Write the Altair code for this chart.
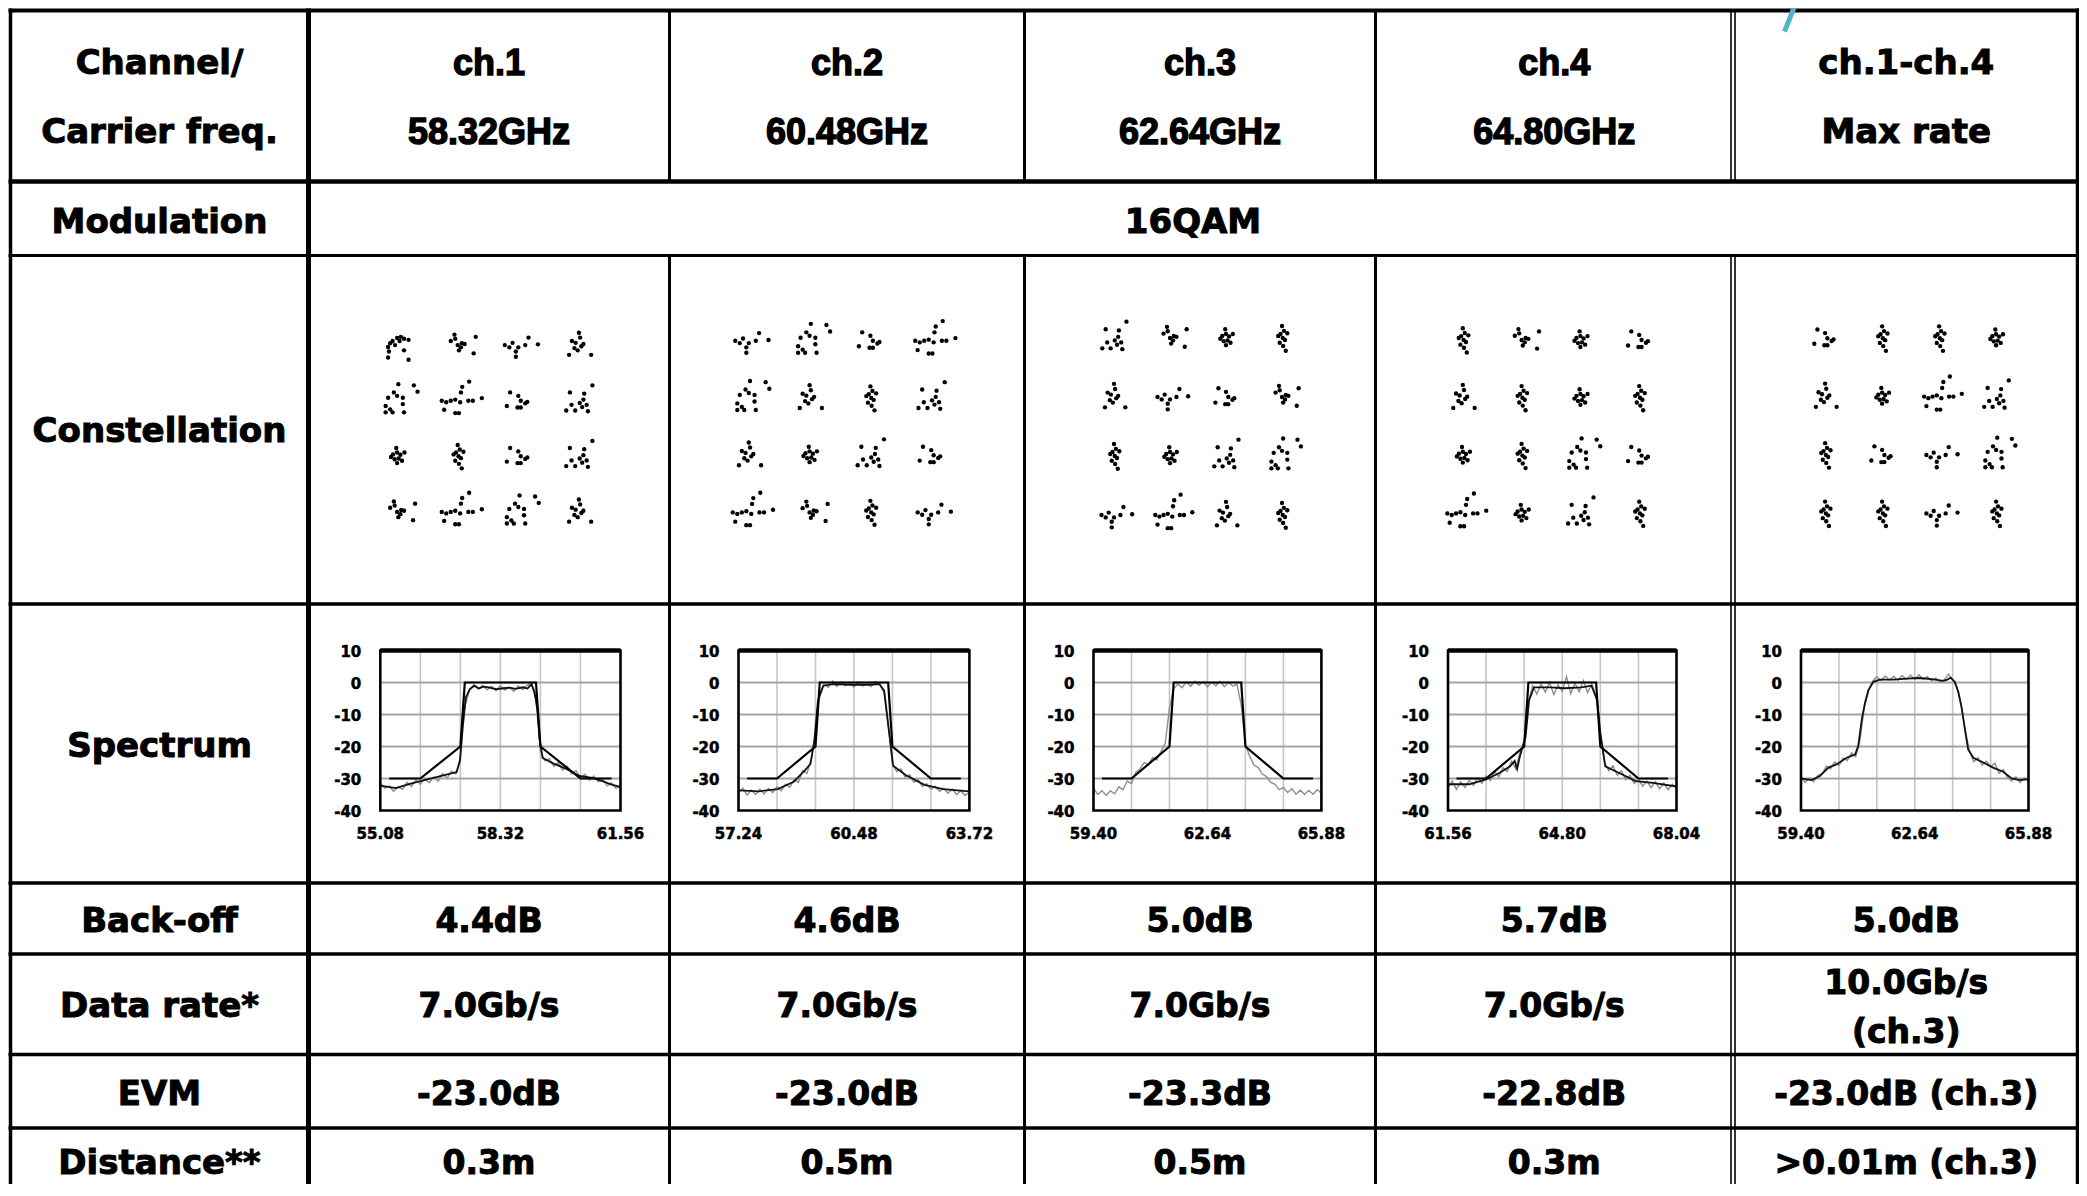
import altair as alt
import pandas as pd

W, H = 2071, 1176          # view size (page px minus 8px body margin)
OX, OY = 8, 8              # page margin offset

FONT_A = "DejaVu Sans"
FONT_B = "Liberation Sans"

# ---------------- table content ----------------
ROW_LABELS = ["Channel/", "Carrier freq.", "Modulation", "Constellation", "Spectrum",
              "Back-off", "Data rate*", "EVM", "Distance**"]
ROW_LABEL_Y = [62, 131, 221, 430, 745, 920, 1005, 1093, 1162]
HEADER_Y = [62, 131]
CHANNELS = ["ch.1", "ch.2", "ch.3", "ch.4", "ch.1-ch.4"]
CARRIERS = ["58.32GHz", "60.48GHz", "62.64GHz", "64.80GHz", "Max rate"]
MODULATION = "16QAM"
BACKOFF = ["4.4dB", "4.6dB", "5.0dB", "5.7dB", "5.0dB"]
DATARATE = ["7.0Gb/s", "7.0Gb/s", "7.0Gb/s", "7.0Gb/s", "10.0Gb/s"]
DATARATE_NOTE = "(ch.3)"
EVM = ["-23.0dB", "-23.0dB", "-23.3dB", "-22.8dB", "-23.0dB (ch.3)"]
DISTANCE = ["0.3m", "0.5m", "0.5m", "0.3m", ">0.01m (ch.3)"]
VALUE_Y = {"backoff": 920, "rate": 1005, "rate_top": 982, "rate_note": 1031, "evm": 1093, "dist": 1162}

# table geometry (page px)
COL_EDGES = [10.5, 308.5, 669.5, 1024.5, 1375.5, 1733.0, 2077.5]
ROW_EDGES = [10.5, 181.5, 255.5, 604.0, 883.0, 954.0, 1054.5, 1128.0]
ROW_WIDTHS = [4.0, 4.5, 3.0, 3.5, 3.5, 3.5, 3.5, 3.5]
TABLE_BOTTOM = 1190.0

# ---------------- constellations ----------------
I_LEVELS = [-3, -1, 1, 3]
Q_LEVELS = [3, 1, -1, -3]
SPREAD = 1.35
PATTERNS = [
    [(-0.22, -0.05), (-0.17, 0.05), (-0.11, 0.11), (0.0, 0.19), (0.09, 0.22), (0.17, 0.17), (0.28, 0.14),
     (-0.05, 0.0), (-0.2, -0.17), (-0.22, -0.33), (0.17, -0.14), (0.28, -0.39), (0.06, 0.11)],
    [(-0.17, 0.11), (-0.08, 0.28), (0.0, 0.0), (0.08, -0.06), (0.17, 0.03), (0.44, 0.22), (0.39, -0.22),
     (-0.06, 0.17), (0.03, -0.14), (0.1, 0.05)],
    [(-0.33, 0.0), (-0.22, -0.06), (-0.14, 0.06), (-0.06, -0.17), (-0.06, -0.31), (0.0, -0.06), (0.17, 0.0),
     (0.25, 0.2), (0.48, 0.02)],
    [(-0.17, 0.11), (0.0, 0.33), (0.06, -0.03), (-0.03, -0.14), (-0.08, 0.06), (-0.24, -0.26), (0.3, -0.26),
     (-0.11, -0.08), (0.11, 0.03), (0.03, 0.2)],
    [(0.03, 0.44), (0.41, 0.41), (0.5, 0.24), (-0.08, 0.22), (-0.22, 0.08), (0.0, 0.13), (0.14, 0.08),
     (-0.28, -0.14), (-0.17, -0.23), (-0.28, -0.31), (-0.11, -0.31), (0.17, -0.31), (0.14, -0.09)],
    [(-0.39, 0.0), (-0.28, -0.04), (-0.17, 0.0), (-0.06, 0.03), (0.06, -0.04), (0.11, 0.37), (0.08, 0.22),
     (0.26, 0.0), (0.37, 0.0), (0.59, 0.07), (-0.33, -0.24), (-0.06, -0.33), (0.03, -0.33), (0.28, 0.51)],
    [(-0.2, 0.22), (0.0, 0.13), (0.06, 0.0), (0.17, -0.07), (0.22, -0.03), (0.06, -0.18), (-0.02, -0.18),
     (-0.28, -0.14)],
    [(-0.22, 0.22), (0.13, 0.19), (0.33, 0.41), (0.11, 0.03), (0.02, -0.06), (0.19, -0.11), (-0.09, -0.26),
     (-0.31, -0.26), (0.22, -0.28), (-0.18, -0.11), (0.08, -0.17)],
    [(0.0, 0.3), (0.05, 0.18), (-0.04, 0.1), (0.02, 0.0), (0.08, -0.05), (-0.06, -0.12), (0.03, -0.2),
     (0.1, -0.32), (-0.1, 0.05), (0.14, 0.12)],
    [(-0.1, 0.05), (0.0, 0.1), (0.08, 0.04), (0.04, -0.06), (-0.06, -0.08), (0.12, -0.12), (-0.15, -0.02),
     (0.0, -0.18), (0.18, 0.1), (-0.02, 0.22)],
]
PANEL_PATTERNS = [
    [0, 1, 2, 3, 4, 5, 6, 7, 9, 8, 6, 7, 1, 5, 4, 3],
    [2, 4, 6, 5, 4, 3, 8, 7, 3, 9, 7, 6, 5, 1, 8, 2],
    [7, 1, 9, 8, 3, 2, 6, 1, 8, 9, 7, 4, 2, 5, 3, 8],
    [8, 1, 9, 6, 3, 8, 9, 8, 9, 8, 4, 6, 5, 9, 7, 8],
    [6, 8, 8, 9, 3, 9, 5, 7, 8, 6, 2, 4, 8, 8, 2, 8],
]
CONST_CX = [488, 840, 1198, 1551, 1910.6]
CONST_UX = [30.3, 30.4, 28.0, 29.4, 28.5]
CONST_CY = [428.5, 426.6, 426.5, 426.7, 425.8]
CONST_UY = [27.8, 28.6, 29.5, 28.9, 29.2]

# ---------------- spectra ----------------
SPEC_TICKS = [[55.08, 58.32, 61.56], [57.24, 60.48, 63.72], [59.40, 62.64, 65.88],
              [61.56, 64.80, 68.04], [59.40, 62.64, 65.88]]
SPEC_GRID_F = [[56.16, 57.24, 58.32, 59.40, 60.48], [58.32, 59.40, 60.48, 61.56, 62.64],
               [60.48, 61.56, 62.64, 63.72, 64.80], [62.64, 63.72, 64.80, 65.88, 66.96],
               [60.48, 61.56, 62.64, 63.72, 64.80]]
SPEC_GRID_DB = [-30, -20, -10, 0]
SPEC_Y_TICKS = [-40, -30, -20, -10, 0, 10]
SPEC_LEFT = [380.3, 738.5, 1093.5, 1448.0, 1801.0]
SPEC_RIGHT = [620.5, 969.4, 1321.4, 1676.5, 2028.5]
SPEC_TOP, SPEC_BOTTOM = 650.5, 810.5

MASK_F = [
    [55.32, 56.16, 57.24, 57.36, 59.28, 59.40, 60.48, 61.32],
    [57.48, 58.32, 59.40, 59.52, 61.44, 61.56, 62.64, 63.48],
    [59.64, 60.48, 61.56, 61.68, 63.60, 63.72, 64.80, 65.64],
    [61.80, 62.64, 63.72, 63.84, 65.76, 65.88, 66.96, 67.80],
    [],
]
MASK_DB = [-30, -30, -20, 0, 0, -20, -30, -30]

BLACK_F = [
    [55.08, 55.50, 55.90, 56.24, 56.78, 57.14, 57.23, 57.30, 57.39, 57.50,
     57.62, 57.74, 57.86, 58.00, 58.21, 58.40, 58.57, 58.72, 58.93, 59.05,
     59.16, 59.24, 59.32, 59.38, 59.46, 59.73, 60.10, 60.45, 60.80, 61.07, 61.34, 61.56],
    [57.24, 57.82, 58.34, 58.79, 59.11, 59.26, 59.37, 59.47, 59.62, 59.88,
     60.40, 60.91, 61.20, 61.33, 61.45, 61.58, 61.94, 62.46, 62.98, 63.72],
    [],
    [61.56, 62.16, 62.64, 63.03, 63.32, 63.45, 63.52, 63.60, 63.76, 63.86, 64.00,
     64.47, 64.86, 65.34, 65.63, 65.79, 65.88, 66.02, 66.40, 66.88, 67.37, 68.04],
    [59.40, 59.70, 59.94, 60.18, 60.41, 60.70, 60.94, 61.03, 61.13, 61.22,
     61.32, 61.46, 61.65, 62.03, 62.41, 62.79, 63.17, 63.45, 63.55, 63.66,
     63.78, 63.88, 63.97, 64.07, 64.16, 64.31, 64.59, 64.87, 65.16, 65.40, 65.63, 65.88],
]
BLACK_DB = [
    [-32.2, -33.0, -31.6, -30.6, -29.0, -28.0, -24.4, -14.0, -4.6, -2.0,
     -1.0, -1.9, -1.3, -1.5, -2.1, -1.8, -1.6, -2.0, -1.5, -1.9,
     -0.5, -3.0, -8.5, -17.8, -23.6, -25.2, -27.0, -29.2, -29.8, -30.8, -32.0, -32.6],
    [-33.7, -34.0, -33.3, -31.0, -27.4, -25.4, -18.0, -5.7, -1.0, -0.5,
     -0.7, -0.7, -0.5, -2.6, -14.0, -26.0, -29.0, -32.0, -33.3, -34.0],
    [],
    [-31.8, -31.8, -30.3, -28.2, -26.2, -24.5, -27.0, -23.0, -17.0, -5.5, -1.5,
     -1.5, -1.8, -1.5, -1.0, -5.5, -15.8, -26.2, -28.2, -30.8, -31.4, -32.5],
    [-30.0, -30.5, -29.2, -26.6, -25.6, -23.5, -22.5, -19.9, -11.6, -6.5,
     -2.4, 0.2, 0.9, 0.9, 1.2, 1.4, 1.0, 0.5, 0.8, 1.5,
     0.2, -2.9, -7.5, -14.7, -20.9, -23.5, -25.0, -26.6, -27.9, -30.0, -30.5, -30.2],
]
GRAY_STEP = 0.12
GRAY_DB = [
    [-31.5, -33.0, -32.4, -34.0, -32.6, -33.4, -31.2, -32.5, -30.4, -31.8,
     -30.0, -31.3, -29.6, -30.8, -28.5, -29.9, -27.8, -28.6, -23.5, -7.5,
     -2.5, -0.8, -2.0, -0.9, -2.3, -1.2, -2.6, -1.0, -2.4, -1.5,
     -2.7, -1.1, -2.2, -0.9, -0.3, -5.5, -21.5, -24.5, -23.8, -26.2,
     -25.0, -27.4, -26.1, -28.6, -27.5, -29.8, -28.7, -30.5, -29.2, -31.0,
     -30.2, -32.3, -31.4, -33.1, -32.4],
    [-34.5, -33.0, -35.2, -33.6, -35.0, -33.4, -34.8, -33.1, -34.4, -32.6,
     -33.8, -31.8, -32.7, -30.4, -31.2, -27.5, -28.4, -24.0, -16.5, -3.0,
     -0.6, -1.5, 0.5, -1.2, 0.2, -1.0, -0.2, -1.4, 0.1, -1.1,
     -0.3, -1.3, 0.3, -0.8, -3.0, -13.0, -25.5, -27.8, -27.0, -29.6,
     -28.8, -31.2, -30.4, -32.5, -31.6, -33.4, -32.4, -34.0, -33.0, -34.6,
     -33.3, -35.0, -33.8, -35.3, -34.2],
    [-33.0, -35.0, -33.8, -35.2, -33.9, -34.8, -32.6, -33.5, -30.8, -31.6,
     -28.2, -27.0, -25.0, -25.8, -23.4, -24.2, -21.5, -19.0, -8.0, -2.0,
     -0.5, -1.6, 0.2, -1.2, 0.4, -0.9, 0.3, -1.4, 0.1, -1.0,
     0.4, -1.3, 0.0, -1.1, -0.6, -7.0, -19.5, -23.0, -25.8, -26.5,
     -28.6, -29.4, -31.2, -31.8, -33.5, -32.8, -34.4, -33.2, -34.9, -33.6,
     -35.0, -33.7, -34.9, -33.5, -34.6],
    [-33.0, -30.8, -33.4, -31.0, -32.8, -30.6, -32.2, -29.8, -31.5, -29.2,
     -30.6, -27.8, -29.4, -26.6, -27.8, -24.6, -26.9, -22.0, -18.5, -6.0,
     -1.0, -3.6, -0.5, -3.0, 0.0, -3.8, -0.8, -2.8, 1.8, -3.5,
     -0.2, -2.9, 0.6, -3.2, -0.4, -4.5, -16.0, -25.0, -27.6, -26.0,
     -29.0, -27.6, -30.4, -29.0, -31.6, -30.2, -32.4, -30.8, -32.8, -31.0,
     -33.2, -31.4, -33.5, -31.8, -33.0],
    [-29.5, -31.2, -29.8, -31.0, -29.0, -28.6, -26.2, -27.0, -24.8, -26.0,
     -23.6, -24.4, -22.0, -23.2, -18.0, -8.0, -2.6, 0.4, 1.8, 0.6,
     2.0, 0.8, 1.9, 0.7, 2.2, 0.9, 2.3, 1.0, 2.4, 0.9,
     1.8, 0.5, 1.4, 0.2, 0.8, 2.6, 0.8, -1.5, -7.0, -15.0,
     -21.5, -24.8, -23.5, -25.8, -24.6, -26.4, -25.2, -28.4, -27.2, -29.6,
     -30.8, -29.5, -31.3, -29.8, -30.9],
]

# ================= build =================
def page_scales():
    xs = alt.Scale(domain=[OX, OX + W], range=[0, W], nice=False, zero=False)
    ys = alt.Scale(domain=[OY, OY + H], range=[0, H], nice=False, zero=False)
    return xs, ys


def table_layer():
    xs, ys = page_scales()
    rows = []
    left_outer, right_outer = COL_EDGES[0] - 2, COL_EDGES[-1] + 1.8
    for y, w in zip(ROW_EDGES, ROW_WIDTHS):
        rows.append(dict(x1=left_outer, x2=right_outer, y1=y, y2=y, w=w, c="black"))
    top = ROW_EDGES[0] - 2
    rows.append(dict(x1=COL_EDGES[0], x2=COL_EDGES[0], y1=top, y2=TABLE_BOTTOM, w=3.5, c="black"))
    rows.append(dict(x1=COL_EDGES[1], x2=COL_EDGES[1], y1=top, y2=TABLE_BOTTOM, w=5.0, c="black"))
    rows.append(dict(x1=COL_EDGES[-1], x2=COL_EDGES[-1], y1=top, y2=TABLE_BOTTOM, w=3.5, c="black"))
    inner = [(COL_EDGES[2], 3.0), (COL_EDGES[3], 3.0), (COL_EDGES[4], 3.0),
             (COL_EDGES[5] - 2.0, 1.6), (COL_EDGES[5] + 2.0, 1.6)]
    for x, w in inner:
        rows.append(dict(x1=x, x2=x, y1=ROW_EDGES[0], y2=ROW_EDGES[1], w=w, c="black"))
        rows.append(dict(x1=x, x2=x, y1=ROW_EDGES[2], y2=TABLE_BOTTOM, w=w, c="black"))
    # small cyan stroke in the top right corner of the slide
    rows.append(dict(x1=1797.0, x2=1784.5, y1=0.0, y2=31.7, w=5.0, c="#4db6c9"))
    rules_df = pd.DataFrame(rows)

    rules = alt.Chart(rules_df).mark_rule().encode(
        x=alt.X("x1:Q", scale=xs, axis=None), x2="x2:Q",
        y=alt.Y("y1:Q", scale=ys, axis=None), y2="y2:Q",
        strokeWidth=alt.StrokeWidth("w:Q", scale=None),
        color=alt.Color("c:N", scale=None),
    )

    centers = [(COL_EDGES[i] + COL_EDGES[i + 1]) / 2 for i in range(1, 5)]
    centers.append((COL_EDGES[5] + 2.0 + COL_EDGES[6]) / 2)
    label_x = (COL_EDGES[0] + COL_EDGES[1]) / 2

    ta, tb = [], []
    for t, y in zip(ROW_LABELS, ROW_LABEL_Y):
        ta.append(dict(x=label_x, y=y, t=t, s=34))
    for k in range(5):
        dest = tb if k < 4 else ta
        size = 36 if k < 4 else 34
        dest.append(dict(x=centers[k], y=HEADER_Y[0], t=CHANNELS[k], s=size))
        dest.append(dict(x=centers[k], y=HEADER_Y[1], t=CARRIERS[k], s=size))
    ta.append(dict(x=(COL_EDGES[1] + COL_EDGES[6]) / 2, y=221, t=MODULATION, s=34))
    for k in range(5):
        ta.append(dict(x=centers[k], y=VALUE_Y["backoff"], t=BACKOFF[k], s=33))
        if k < 4:
            ta.append(dict(x=centers[k], y=VALUE_Y["rate"], t=DATARATE[k], s=33))
        else:
            ta.append(dict(x=centers[k], y=VALUE_Y["rate_top"], t=DATARATE[k], s=33))
            ta.append(dict(x=centers[k], y=VALUE_Y["rate_note"], t=DATARATE_NOTE, s=33))
        ta.append(dict(x=centers[k], y=VALUE_Y["evm"], t=EVM[k], s=33))
        ta.append(dict(x=centers[k], y=VALUE_Y["dist"], t=DISTANCE[k], s=33))

    def text_chart(recs, font, sw):
        return alt.Chart(pd.DataFrame(recs)).mark_text(
            font=font, fontWeight="bold", color="black", stroke="black", strokeWidth=sw,
            baseline="middle", align="center", dy=2
        ).encode(
            x=alt.X("x:Q", scale=xs, axis=None),
            y=alt.Y("y:Q", scale=ys, axis=None),
            text="t:N",
            size=alt.Size("s:Q", scale=None),
        )

    return alt.layer(rules, text_chart(ta, FONT_A, 1.0), text_chart(tb, FONT_B, 1.4))


def constellation_layer(k):
    recs = []
    for r, q in enumerate(Q_LEVELS):
        for c, i in enumerate(I_LEVELS):
            pat = PATTERNS[PANEL_PATTERNS[k][r * 4 + c]]
            for dx, dy in pat:
                recs.append(dict(i=i + SPREAD * dx, q=q + SPREAD * dy))
    df = pd.DataFrame(recs)
    xs = alt.Scale(domain=[-4, 4], nice=False, zero=False,
                   range=[CONST_CX[k] - 4 * CONST_UX[k] - OX, CONST_CX[k] + 4 * CONST_UX[k] - OX])
    ys = alt.Scale(domain=[-4, 4], nice=False, zero=False,
                   range=[CONST_CY[k] + 4 * CONST_UY[k] - OY, CONST_CY[k] - 4 * CONST_UY[k] - OY])
    return alt.Chart(df).mark_circle(size=19, color="black", opacity=1).encode(
        x=alt.X("i:Q", scale=xs, axis=None),
        y=alt.Y("q:Q", scale=ys, axis=None),
    )


def spectrum_layer(k):
    lo, fc, hi = SPEC_TICKS[k]
    L, R = SPEC_LEFT[k], SPEC_RIGHT[k]
    xs = alt.Scale(domain=[lo, hi], range=[L - OX, R - OX], nice=False, zero=False)
    ys = alt.Scale(domain=[-40, 10], range=[SPEC_BOTTOM - OY, SPEC_TOP - OY], nice=False, zero=False)

    def X(f):
        return alt.X(f, scale=xs, axis=None)

    def Y(f):
        return alt.Y(f, scale=ys, axis=None)

    gv = pd.DataFrame({"f": SPEC_GRID_F[k], "y1": -40, "y2": 10})
    gh = pd.DataFrame({"d": SPEC_GRID_DB, "x1": lo, "x2": hi})
    grid_v = alt.Chart(gv).mark_rule(color="#c6c6c6", strokeWidth=1.6).encode(
        x=X("f:Q"), y=Y("y1:Q"), y2="y2:Q")
    grid_h = alt.Chart(gh).mark_rule(color="#a4a4a4", strokeWidth=1.8).encode(
        y=Y("d:Q"), x=X("x1:Q"), x2="x2:Q")

    layers = [grid_v, grid_h]

    gray_f = [round(lo + GRAY_STEP * j, 2) for j in range(len(GRAY_DB[k]))]
    gdf = pd.DataFrame({"f": gray_f, "d": GRAY_DB[k], "o": range(len(gray_f))})
    layers.append(alt.Chart(gdf).mark_line(color="#8e8e8e", strokeWidth=1.4).encode(
        x=X("f:Q"), y=Y("d:Q"), order="o:Q"))

    if BLACK_F[k]:
        bdf = pd.DataFrame({"f": BLACK_F[k], "d": BLACK_DB[k], "o": range(len(BLACK_F[k]))})
        layers.append(alt.Chart(bdf).mark_line(color="#111111", strokeWidth=1.8).encode(
            x=X("f:Q"), y=Y("d:Q"), order="o:Q"))
    if MASK_F[k]:
        mdf = pd.DataFrame({"f": MASK_F[k], "d": MASK_DB, "o": range(len(MASK_DB))})
        layers.append(alt.Chart(mdf).mark_line(color="black", strokeWidth=2.2).encode(
            x=X("f:Q"), y=Y("d:Q"), order="o:Q"))

    fdf = pd.DataFrame({"x1": [lo], "x2": [hi], "y1": [-40], "y2": [10]})
    frame = alt.Chart(fdf).mark_rect(fillOpacity=0, stroke="black", strokeWidth=2.6).encode(
        x=X("x1:Q"), x2="x2:Q", y=Y("y1:Q"), y2="y2:Q")
    top = alt.Chart(fdf).mark_rule(color="black", strokeWidth=4.5).encode(
        x=X("x1:Q"), x2="x2:Q", y=Y("y2:Q"))

    # tick labels placed through the panel's own scales
    xl = pd.DataFrame({"f": SPEC_TICKS[k], "d": -40, "t": [f"{v:.2f}" for v in SPEC_TICKS[k]]})
    yl = pd.DataFrame({"f": lo, "d": SPEC_Y_TICKS, "t": [str(v) for v in SPEC_Y_TICKS]})
    xlab = alt.Chart(xl).mark_text(font=FONT_A, fontWeight="bold", fontSize=15, color="black",
                                   stroke="black", strokeWidth=0.5,
                                   align="center", baseline="middle", dy=23).encode(
        x=X("f:Q"), y=Y("d:Q"), text="t:N")
    ylab = alt.Chart(yl).mark_text(font=FONT_A, fontWeight="bold", fontSize=15, color="black",
                                   stroke="black", strokeWidth=0.5,
                                   align="right", baseline="middle", dx=-19, dy=1).encode(
        x=X("f:Q"), y=Y("d:Q"), text="t:N")
    layers += [frame, top, xlab, ylab]
    return alt.layer(*layers)


all_layers = [table_layer()]
all_layers += [constellation_layer(k) for k in range(5)]
all_layers += [spectrum_layer(k) for k in range(5)]

chart = alt.layer(*all_layers).resolve_scale(
    x="independent", y="independent"
).properties(
    width=W, height=H, padding=0,
    autosize=alt.AutoSizeParams(type="none"),
    background="white",
).configure_view(stroke=None)

chart.save("out.html", embed_options={"renderer": "svg", "actions": False})
